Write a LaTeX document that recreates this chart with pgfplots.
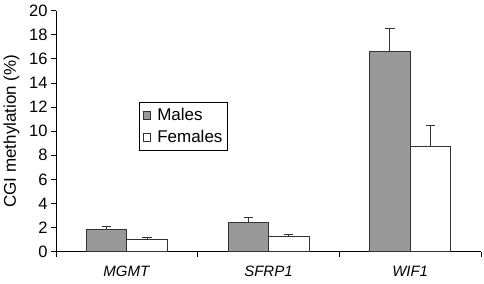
\documentclass[border=0pt]{standalone}
\usepackage{pgfplots}
\pgfplotsset{compat=1.18}
\usepackage{fontspec}
\setmainfont{Liberation Sans}
\definecolor{barg}{HTML}{999999}
\definecolor{edge}{HTML}{333333}
\begin{document}
\begin{tikzpicture}
\begin{axis}[
  scale only axis,
  width=425bp, height=241bp,
  xmin=-0.5, xmax=2.5,
  ymin=0, ymax=20,
  axis x line=bottom, axis y line=left,
  axis line style={-, line width=0.8bp, black},
  ybar=0pt, bar width=40.5bp,
  xtick={0,1,2},
  xticklabels={\textit{MGMT},\textit{SFRP1},\textit{WIF1}},
  major x tick style={draw=none},
  minor xtick={-0.5,0.5,1.5,2.5},
  minor tick length=5bp,
  major tick length=5bp,
  tick align=outside,
  tick style={line width=0.8bp, black},
  ytick={0,2,...,20},
  /pgf/number format/assume math mode=true,
  yticklabel style={font=\fontsize{16.5bp}{18bp}\selectfont},
  xticklabel style={font=\fontsize{15bp}{17bp}\selectfont, yshift=-6bp},
  ylabel={CGI methylation (\%)},
  ylabel style={font=\fontsize{17bp}{19bp}\selectfont},
  ylabel shift=3bp,
  legend style={at={(axis description cs:0.196,0.620)}, anchor=north west,
    draw=black, line width=0.6bp, font=\fontsize{17bp}{19bp}\selectfont,
    inner xsep=3bp, inner ysep=4bp, row sep=4bp},
  legend cell align=left,
  legend image code/.code={\draw[#1, line width=0.6bp] (0bp,-3.8bp) rectangle (7.6bp,3.8bp); \path (12bp,0bp);},
  error bars/y dir=plus, error bars/y explicit,
  error bars/error mark options={rotate=90, mark size=4.6bp, line width=1bp, draw=edge},
  error bars/error bar style={line width=1bp, draw=edge},
]
\addplot[fill=barg, draw=edge, line width=0.8bp] coordinates {
  (0,1.85) +- (0,0.25)
  (1,2.45) +- (0,0.4)
  (2,16.6) +- (0,1.95)
};
\addlegendentry{Males}
\addplot[fill=white, draw=edge, line width=0.8bp] coordinates {
  (0,1.05) +- (0,0.1)
  (1,1.25) +- (0,0.15)
  (2,8.75) +- (0,1.7)
};
\addlegendentry{Females}
\coordinate (o) at (rel axis cs:0,0);
\end{axis}
\pgfresetboundingbox
\path (o) ++(-56bp,-32.3bp) rectangle ++(484bp,284bp);
\end{tikzpicture}
\end{document}
